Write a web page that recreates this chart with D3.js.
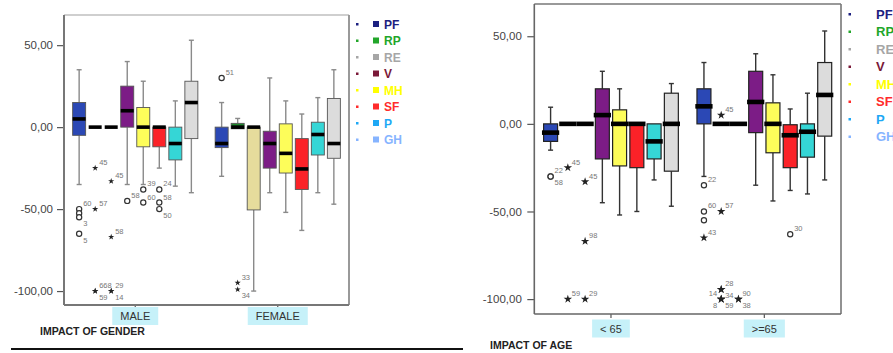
<!DOCTYPE html>
<html>
<head>
<meta charset="utf-8">
<script src="https://cdn.jsdelivr.net/npm/d3@7"></script>
<style>
  body { margin: 0; background: #fff; }
  svg { display: block; font-family: "Liberation Sans", Arial, sans-serif; }
</style>
</head>
<body>
<svg id="chart" width="893" height="353"></svg>
<script>
// scales of the two SPSS box plots
const series = ['PF', 'RP', 'RE', 'V', 'MH', 'SF', 'P', 'GH'];
const genderCats = ['MALE', 'FEMALE'];
const ageCats = ['< 65', '>=65'];
const yTicks = [50, 0, -50, -100];
const yDomain = [-108.5, 68.4];

// [low whisker, q1, median, q3, high whisker], one row per series
const maleBoxes = [
  [-35, -5, 5, 15, 35], [0, 0, 0, 0, 0], [0, 0, 0, 0, 0], [-35, 0, 10, 25, 40],
  [-35, -12, 0, 12, 28], [-25, -12, 0, 0, 0], [-36, -20, -10, 0, 16], [-40, -7, 15, 28, 53]
];
const femaleBoxes = [
  [-30, -12.5, -10, 0, 15], [-1, -1, 0, 2.3, 5.3], [-100, -50.5, 0, 0, 0], [-40, -25, -10, -2.5, 30],
  [-52, -28, -16, 2, 16], [-63, -38, -25.5, -7, 8], [-40, -17, -4.5, 3, 18], [-47, -19, -10, 17.5, 35]
];
const youngBoxes = [
  [-15, -10, -5, 0, 9.5], [0, 0, 0, 0, 0], [0, 0, 0, 0, 0], [-45, -20, 5, 20, 30],
  [-52, -24, 0, 8, 20], [-50, -25, 0, 0, 0], [-32, -20, -10, 0, 0], [-47, -27, 0, 17.5, 23]
];
const oldBoxes = [
  [-30, 0, 10, 20, 35], [0, 0, 0, 0, 0], [0, 0, 0, 0, 0], [-35, -5, 12.5, 30, 40],
  [-44, -16.5, 0, 12, 28], [-38, -25, -6.5, -0.5, 8.5], [-40, -19, -4.5, 0, 17.5], [-32, -7, 16.5, 35, 53]
];

// outliers: [series, value, case label, 'o' outlier | '*' extreme]
const maleOut = [
  ['PF', -50, '60', 'o'], ['PF', -52.5, '', 'o'], ['PF', -55, '3', 'o'], ['PF', -65, '5', 'o'],
  ['RP', -25, '45', '*'], ['RP', -50, '57', '*'], ['RP', -100, '668', '*'], ['RP', -100, '59', '*'],
  ['RE', -33, '45', '*'], ['RE', -67, '58', '*'], ['RE', -100, '29', '*'], ['RE', -100, '14', '*'],
  ['V', -45, '58', 'o'], ['MH', -38, '39', 'o'], ['MH', -46, '60', 'o'],
  ['SF', -38, '24', 'o'], ['SF', -46, '58', 'o'], ['SF', -50, '50', 'o']
];
const femaleOut = [
  ['PF', 30, '51', 'o'], ['RP', -95, '33', '*'], ['RP', -99, '34', '*']
];
const youngOut = [
  ['PF', -30, '22', 'o'], ['PF', -30, '58', 'o'],
  ['RP', -25, '45', '*'], ['RP', -100, '59', '*'],
  ['RE', -33, '45', '*'], ['RE', -67, '98', '*'], ['RE', -100, '29', '*']
];
const oldOut = [
  ['PF', -35, '22', 'o'], ['PF', -50, '60', 'o'], ['PF', -55, '', 'o'], ['PF', -65, '43', '*'],
  ['RP', 5, '45', '*'], ['RP', -50, '57', '*'], ['RP', -94.5, '28', '*'], ['RP', -94.5, '34', '*'],
  ['RP', -100, '59', '*'], ['RP', -100, '8', '*'], ['RP', -100, '14', '*'],
  ['RE', -100, '90', '*'], ['RE', -100, '38', '*'],
  ['SF', -63, '30', 'o']
];

const boxColor = { PF: '#2b48b5', RP: '#1f8a2e', RE: '#e6dc9c', V: '#7c1c86',
                   MH: '#fdfd5a', SF: '#fb2228', P: '#35d6d6', GH: '#dcdcdc' };
const legendColor = { PF: '#1c2080', RP: '#22a62a', RE: '#a6a6a6', V: '#7a1838',
                      MH: '#ffff00', SF: '#ff2b2b', P: '#1ea8f5', GH: '#86b4ff' };

const svg = d3.select('#chart');
const fmt = d => d3.format('.2f')(d).replace('.', ',').replace('−', '-');

function overlaps(a, b) {
  return a.x < b.x + b.width && b.x < a.x + a.width && a.y < b.y + b.height && b.y < a.y + a.height;
}

function drawPanel(p) {
  const g = svg.append('g');
  const x = d3.scaleBand().domain(p.cats).range([p.left, p.right]);
  const inner = d3.scaleBand().domain(series)
    .range([x.bandwidth() * 0.05, x.bandwidth() * 0.95]);
  const y = d3.scaleLinear().domain(yDomain).range([p.bottom, p.top]);
  const slot = inner.bandwidth();
  const bw = slot * 0.81;
  const cx = (c, s) => x(c) + inner(s) + slot / 2;

  // y axis (frame draws the domain line)
  const ax = g.append('g')
    .attr('transform', `translate(${p.left},0)`)
    .call(d3.axisLeft(y).tickValues(yTicks).tickFormat(fmt).tickSize(7).tickPadding(p.pad));
  ax.select('.domain').remove();
  ax.selectAll('line').attr('stroke', '#555').attr('stroke-width', 1.2);
  ax.selectAll('text').attr('fill', '#444').style('font-size', '11.5px');

  // x ticks
  g.selectAll('.xt').data(p.cats).join('line')
    .attr('x1', c => x(c) + x.bandwidth() / 2).attr('x2', c => x(c) + x.bandwidth() / 2)
    .attr('y1', p.bottom).attr('y2', p.bottom + 4)
    .attr('stroke', '#555').attr('stroke-width', 1.2);

  const placed = [];
  p.cats.forEach((c, ci) => {
    const rows = p.boxes[ci];
    const cg = g.append('g');
    // whiskers
    rows.forEach((r, si) => {
      const s = series[si], xc = cx(c, s);
      const seg = [[r[0], r[1]], [r[3], r[4]]];
      seg.forEach(([a, b]) => {
        if (a === b) return;
        cg.append('line').attr('x1', xc).attr('x2', xc).attr('y1', y(a)).attr('y2', y(b))
          .attr('stroke', p.whisker).attr('stroke-width', 1.4);
      });
      [r[0], r[4]].forEach((v, k) => {
        if (v === r[k === 0 ? 1 : 3]) return;
        cg.append('line').attr('x1', xc - 2.5).attr('x2', xc + 2.5).attr('y1', y(v)).attr('y2', y(v))
          .attr('stroke', p.whisker).attr('stroke-width', 1.4);
      });
    });
    // boxes
    rows.forEach((r, si) => {
      const s = series[si], xc = cx(c, s);
      if (r[3] - r[1] <= 0) return;
      cg.append('rect').attr('x', xc - bw / 2).attr('width', bw)
        .attr('y', y(r[3])).attr('height', y(r[1]) - y(r[3]))
        .attr('fill', boxColor[s]).attr('stroke', p.boxStroke).attr('stroke-width', p.boxSw);
    });
    // medians
    rows.forEach((r, si) => {
      const s = series[si], xc = cx(c, s);
      const mw = p.medianFull ? slot : bw;
      cg.append('rect').attr('x', xc - mw / 2).attr('width', mw)
        .attr('y', y(r[2]) - p.medianH / 2).attr('height', p.medianH).attr('fill', '#000');
    });
    // outliers
    p.outliers[ci].forEach(([s, v, lab, kind]) => {
      const xc = cx(c, s), yv = y(v);
      if (kind === 'o') {
        cg.append('circle').attr('cx', xc).attr('cy', yv).attr('r', 2.6)
          .attr('fill', '#fff').attr('stroke', '#333').attr('stroke-width', 1.2);
      } else {
        cg.append('path').attr('transform', `translate(${xc},${yv})`)
          .attr('d', d3.symbol(d3.symbolStar, p.starSize)()).attr('fill', '#222');
      }
      if (!lab) return;
      const t = cg.append('text').attr('fill', '#777').style('font-size', '7.5px').text(lab);
      const offs = [[4, -3, 'start'], [4, 9, 'start'], [-4, 9, 'end'], [-4, -3, 'end'],
                    [8, 3, 'start'], [-8, 3, 'end']];
      let box = null;
      for (const o of offs) {
        t.attr('x', xc + o[0]).attr('y', yv + o[1]).attr('text-anchor', o[2]);
        box = t.node().getBBox();
        if (!placed.some(b => overlaps(b, box))) break;
      }
      placed.push(box);
    });

    // category label with highlight
    const lbl = cg.append('text').attr('x', x(c) + x.bandwidth() / 2).attr('y', p.labelY + 13)
      .attr('text-anchor', 'middle').attr('fill', '#333').style('font-size', '11px').text(c);
    const w = lbl.node().getComputedTextLength();
    cg.append('rect')
      .attr('x', x(c) + x.bandwidth() / 2 - w / 2 - 8).attr('width', w + 16)
      .attr('y', p.labelY).attr('height', 18).attr('fill', '#c6f1f9');
    lbl.raise();
  });

  // frame
  const fr = p.frame;
  g.append('line').attr('x1', p.left).attr('x2', p.right).attr('y1', p.top).attr('y2', p.top)
    .attr('stroke', fr.top).attr('stroke-width', fr.sw);
  g.append('line').attr('x1', p.right).attr('x2', p.right).attr('y1', p.top).attr('y2', p.bottom)
    .attr('stroke', fr.right).attr('stroke-width', fr.sw);
  g.append('line').attr('x1', p.left).attr('x2', p.left).attr('y1', p.top).attr('y2', p.bottom)
    .attr('stroke', fr.side).attr('stroke-width', fr.sw);
  g.append('line').attr('x1', p.left).attr('x2', p.right).attr('y1', p.bottom).attr('y2', p.bottom)
    .attr('stroke', fr.side).attr('stroke-width', fr.sw);

  // legend
  const lg = g.append('g');
  series.forEach((s, i) => {
    const ly = p.legY + i * p.legStep;
    lg.append('rect').attr('x', p.legX - 1).attr('y', ly - 1).attr('width', 2.5).attr('height', 2.5)
      .attr('fill', legendColor[s]);
    if (p.legSquare) {
      lg.append('rect').attr('x', p.legX + 16).attr('y', ly - 3).attr('width', 6).attr('height', 6)
        .attr('fill', legendColor[s]);
    }
    lg.append('text').attr('x', p.legText).attr('y', ly + 4.5).attr('fill', legendColor[s])
      .style('font-size', p.legFont).style('font-weight', 'bold').text(s);
  });
}

drawPanel({
  cats: genderCats, boxes: [maleBoxes, femaleBoxes], outliers: [maleOut, femaleOut],
  left: 64, right: 349, top: 15, bottom: 305, pad: 4,
  whisker: '#8a8a8a', boxStroke: '#555', boxSw: 0.9, medianH: 3.6, medianFull: false,
  starSize: 12, labelY: 307, frame: { top: '#cfcfcf', right: '#999', side: '#777', sw: 2 },
  legX: 357, legY: 24, legStep: 16.5, legSquare: true, legText: 384, legFont: '12px'
});
drawPanel({
  cats: ageCats, boxes: [youngBoxes, oldBoxes], outliers: [youngOut, oldOut],
  left: 534.3, right: 841, top: 4, bottom: 314, pad: 5.5,
  whisker: '#333', boxStroke: '#222', boxSw: 1.2, medianH: 4.6, medianFull: true,
  starSize: 22, labelY: 319.5, frame: { top: '#777', right: '#777', side: '#666', sw: 1.6 },
  legX: 849.5, legY: 14, legStep: 17.5, legSquare: false, legText: 876, legFont: '13px'
});

// panel titles and rule
svg.append('text').attr('x', 40).attr('y', 335).attr('fill', '#222')
  .style('font-size', '10.5px').style('font-weight', 'bold').text('IMPACT OF GENDER');
svg.append('text').attr('x', 490).attr('y', 348.5).attr('fill', '#222')
  .style('font-size', '10.5px').style('font-weight', 'bold').text('IMPACT OF AGE');
svg.append('line').attr('x1', 11).attr('x2', 463).attr('y1', 349).attr('y2', 349)
  .attr('stroke', '#111').attr('stroke-width', 1.8);
</script>
</body>
</html>
